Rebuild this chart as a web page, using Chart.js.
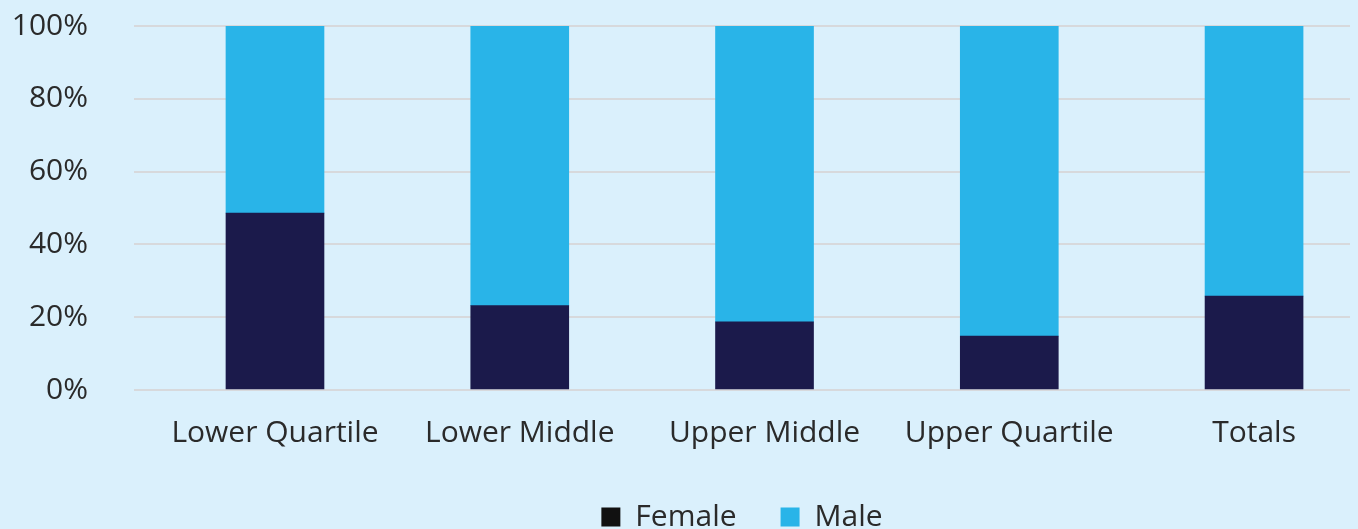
<!DOCTYPE html>
<html>
<head>
<meta charset="utf-8">
<script src="https://cdn.jsdelivr.net/npm/chart.js@4/dist/chart.umd.min.js"></script>
<style>
  html, body { margin: 0; padding: 0; background: #daf0fc; overflow: hidden; }
  canvas { display: block; }
</style>
</head>
<body>
<canvas id="c" width="1358" height="529"></canvas>
<script>
const categories = ['Lower Quartile', 'Lower Middle', 'Upper Middle', 'Upper Quartile', 'Totals'];
const femaleValues = [48.6, 23.2, 18.7, 14.8, 25.8];
const maleValues = [51.4, 76.8, 81.3, 85.2, 74.2];
const yTicks = [0, 20, 40, 60, 80, 100];

const FONT = '"Open Sans", sans-serif';
const TEXT = '#2a2a2a';

const toPoints = arr => arr.map((v, i) => ({ x: i, y: v }));

new Chart(document.getElementById('c'), {
  type: 'bar',
  data: {
    datasets: [
      { label: 'Female', data: toPoints(femaleValues), backgroundColor: '#1b1a4b', legendColor: '#111111' },
      { label: 'Male', data: toPoints(maleValues), backgroundColor: '#29b4e8', legendColor: '#29b4e8' }
    ]
  },
  options: {
    responsive: false,
    animation: false,
    layout: { padding: { top: 26, left: 0, right: 8, bottom: -13 } },
    datasets: { bar: { barThickness: 98 } },
    scales: {
      x: {
        type: 'linear',
        stacked: true,
        offset: false,
        min: -0.576,
        max: 4.392,
        grid: { display: false, drawTicks: false, offset: false },
        border: { display: false },
        afterBuildTicks: s => { s.ticks = categories.map((_, i) => ({ value: i })); },
        afterFit: s => { s.height = 68; },
        ticks: {
          autoSkip: false,
          maxRotation: 0,
          padding: 25,
          color: TEXT,
          font: { family: FONT, size: 30 },
          callback: v => categories[v]
        }
      },
      y: {
        stacked: true,
        min: 0,
        max: 100,
        grid: { color: '#d7d9dc', lineWidth: 2, drawTicks: true, tickLength: 38, tickColor: 'rgba(0,0,0,0)' },
        border: { display: false },
        afterBuildTicks: s => { s.ticks = yTicks.map(v => ({ value: v })); },
        afterFit: s => { s.width = 134; },
        ticks: {
          padding: 8,
          color: TEXT,
          font: { family: FONT, size: 30 },
          callback: v => v + '%'
        }
      }
    },
    plugins: {
      tooltip: { enabled: false },
      legend: {
        position: 'bottom',
        fullSize: false,
        labels: {
          color: TEXT,
          font: { family: FONT, size: 30 },
          boxWidth: 19,
          boxHeight: 19,
          padding: 44,
          generateLabels: chart => chart.data.datasets.map((d, i) => ({
            text: d.label,
            fillStyle: d.legendColor,
            strokeStyle: d.legendColor,
            lineWidth: 0,
            fontColor: TEXT,
            datasetIndex: i,
            hidden: false
          }))
        }
      }
    }
  }
});
</script>
</body>
</html>
